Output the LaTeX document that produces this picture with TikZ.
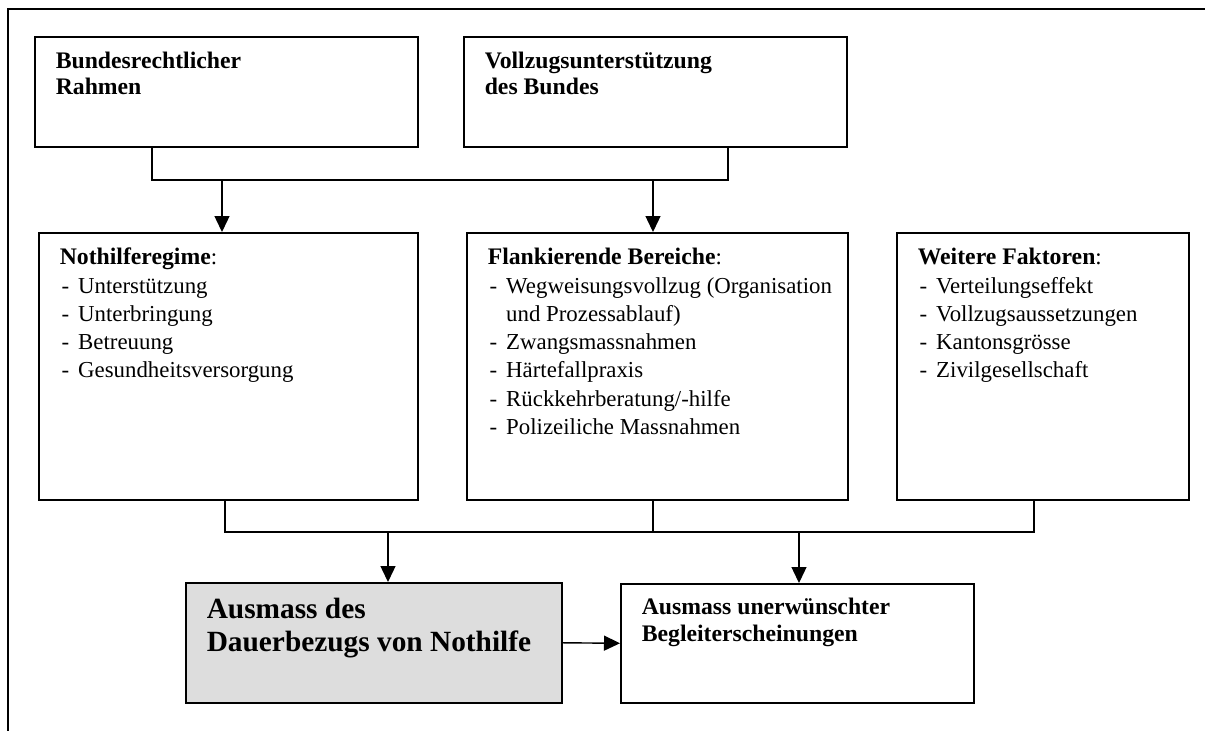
\documentclass[tikz,border=0pt]{standalone}
\usepackage{fontspec}
\setmainfont{Liberation Serif}
\usepackage{xcolor}
\usepackage{tikz}
\usetikzlibrary{arrows.meta}

\definecolor{boxgray}{HTML}{DDDDDD}
\newcommand{\kopf}[1]{{\fontsize{13.5}{16.1}\selectfont\bfseries #1}}
\newcommand{\punkt}[1]{\mbox{\makebox[10.5pt][l]{\hspace{1pt}-}#1}}
\newcommand{\weiter}[1]{\hspace*{10.5pt}#1}

\tikzset{
  box/.style={rectangle, draw, line width=0.9pt, anchor=north west, align=flush left,
    inner xsep=0.42cm, inner ysep=0pt, text height=0.64cm},
  titel/.style={font=\fontsize{13.5}{14.8}\selectfont\bfseries},
  liste/.style={font=\fontsize{13}{16.1}\selectfont},
  linie/.style={line width=0.8pt},
  pfeil/.style={linie, -{Triangle[length=0.32cm, width=0.3cm]}},
}

\begin{document}
\begin{tikzpicture}[x=0.02cm, y=-0.02cm]
    \useasboundingbox (0,0) rectangle (1205,731);
    % Rahmen (oben und links)
    \draw[line width=1.1pt] (1205,9) -- (8,9) -- (8,731);

    % obere Reihe
    \node (bund) [box, titel, text width=6.82cm, text depth=1.56cm] at (34,36) {Bundesrechtlicher\\Rahmen};
    \node (vollzug) [box, titel, text width=6.82cm, text depth=1.56cm] at (463,36) {Vollzugsunterstützung\\des Bundes};

    % mittlere Reihe
    \node (noth) [box, liste, text width=6.74cm, text depth=4.70cm] at (38,232)
        {\kopf{Nothilferegime}:\\
         \punkt{Unterstützung}\\
         \punkt{Unterbringung}\\
         \punkt{Betreuung}\\
         \punkt{Gesundheitsversorgung}};
    \node (flank) [box, liste, text width=6.78cm, text depth=4.70cm] at (466,232)
        {\kopf{Flankierende Bereiche}:\\
         \punkt{Wegweisungsvollzug (Organisation}\\
         \weiter{und Prozessablauf)}\\
         \punkt{Zwangsmassnahmen}\\
         \punkt{Härtefallpraxis}\\
         \punkt{Rückkehrberatung/-hilfe}\\
         \punkt{Polizeiliche Massnahmen}};
    \node (weit) [box, liste, text width=5.0cm, text depth=4.70cm] at (896,232)
        {\kopf{Weitere Faktoren}:\\
         \punkt{Verteilungseffekt}\\
         \punkt{Vollzugsaussetzungen}\\
         \punkt{Kantonsgrösse}\\
         \punkt{Zivilgesellschaft}};

    % untere Reihe
    \node (dauer) [box, fill=boxgray, font=\fontsize{16.7}{18.8}\selectfont\bfseries,
        text width=6.68cm, text height=0.72cm, text depth=1.68cm] at (185,582)
        {Ausmass des\\Dauerbezugs von Nothilfe};
    \node (begleit) [box, font=\fontsize{13.5}{15.4}\selectfont\bfseries,
        text width=6.22cm, text height=0.62cm, text depth=1.76cm] at (620,583)
        {Ausmass unerwünschter\\Begleiterscheinungen};

    % Verbindungen oben
    \coordinate (obenL) at (152,180);
    \coordinate (obenR) at (728,180);
    \coordinate (p1) at (222,180);
    \coordinate (p2) at (653,180);
    \draw[linie] (bund.south -| obenL) -- (obenL) -- (obenR) -- (vollzug.south -| obenR);
    \draw[pfeil] (p1) -- (p1 |- noth.north);
    \draw[pfeil] (p2) -- (p2 |- flank.north);

    % Verbindungen unten
    \coordinate (untenL) at (225,532);
    \coordinate (untenM) at (653,532);
    \coordinate (untenR) at (1034,532);
    \coordinate (p3) at (388,532);
    \coordinate (p4) at (799,532);
    \draw[linie] (noth.south -| untenL) -- (untenL) -- (untenR) -- (weit.south -| untenR);
    \draw[linie] (flank.south -| untenM) -- (untenM);
    \draw[pfeil] (p3) -- (p3 |- dauer.north);
    \draw[pfeil] (p4) -- (p4 |- begleit.north);
    \draw[pfeil] (dauer.east) -- (begleit.west);
\end{tikzpicture}
\end{document}
